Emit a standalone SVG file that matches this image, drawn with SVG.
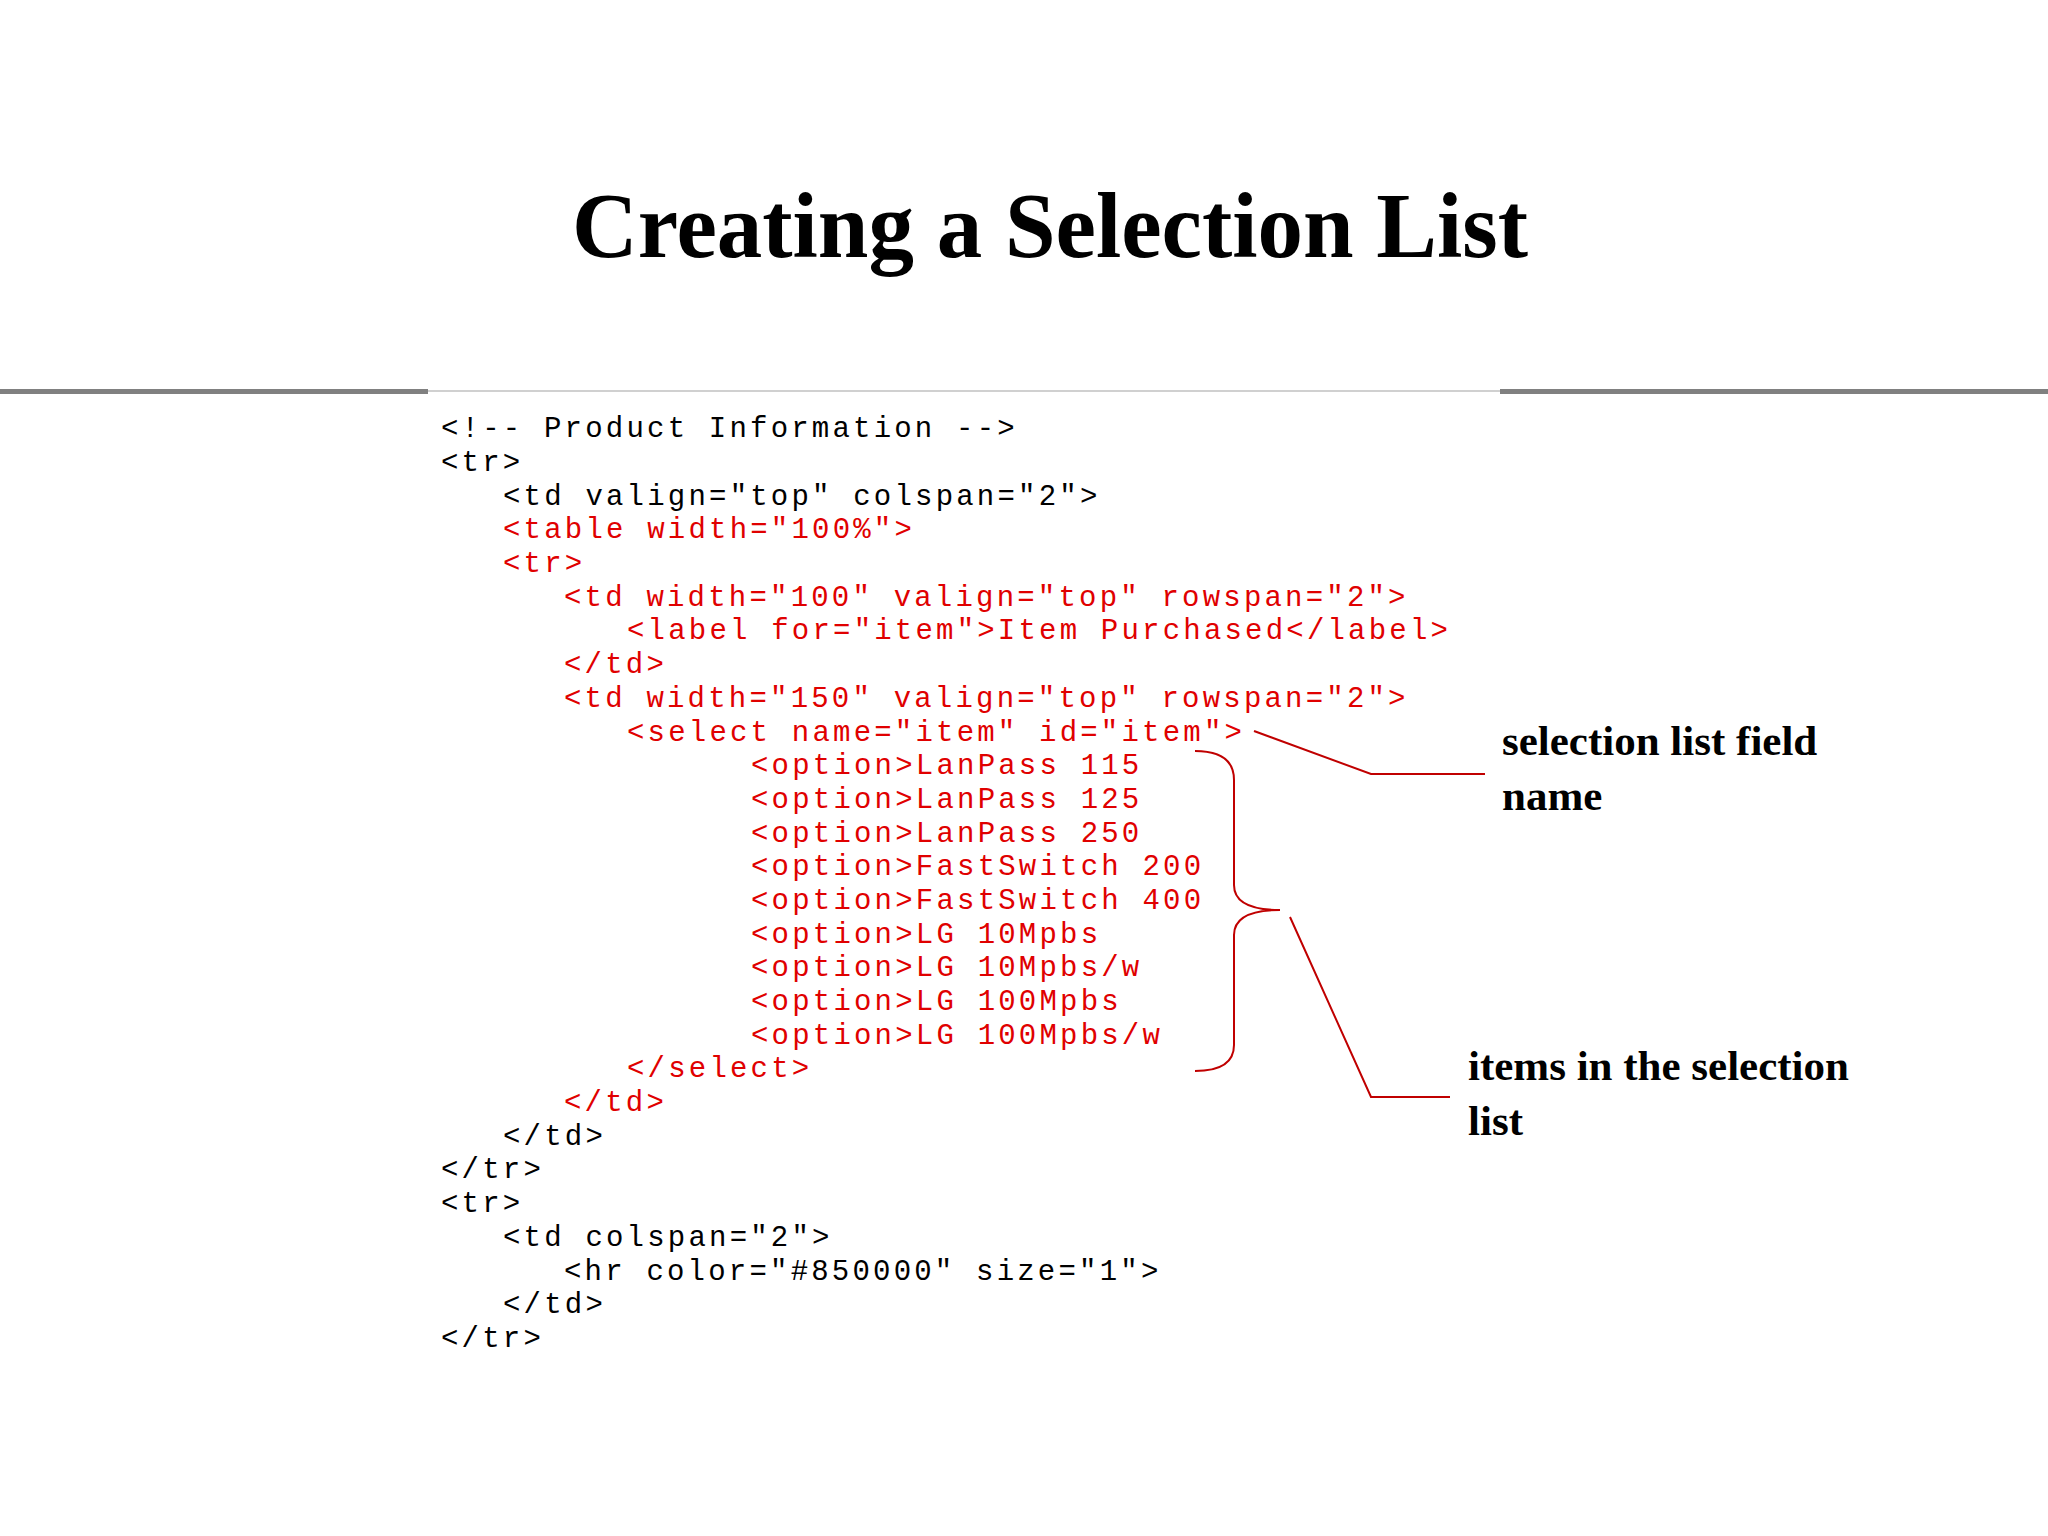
<svg xmlns="http://www.w3.org/2000/svg" width="2048" height="1536" viewBox="0 0 2048 1536">
<style>
.c{font-family:"Liberation Mono","DejaVu Sans Mono",monospace;font-size:29px;letter-spacing:3.2px;}
.k{fill:#000}.r{fill:#e00000}
.l{font-family:"Liberation Serif","Times New Roman",serif;font-weight:bold;font-size:43px;fill:#000}
.w{fill:none;stroke:#c00000;stroke-width:2}
</style>
<rect width="2048" height="1536" fill="#fff"/>
<text x="1050" y="257" text-anchor="middle" font-family="Liberation Serif,serif" font-weight="bold" font-size="94" textLength="956" lengthAdjust="spacingAndGlyphs">Creating a Selection List</text>
<rect x="0" y="389" width="428" height="5" fill="#808080"/>
<rect x="1500" y="389" width="548" height="5" fill="#808080"/>
<rect x="428" y="390" width="1072" height="2" fill="#d0d0d0"/>
<g id="code" xml:space="preserve">
<text class="c k" x="441" y="437">&lt;!-- Product Information --&gt;</text>
<text class="c k" x="441" y="471">&lt;tr&gt;</text>
<text class="c k" x="503" y="505">&lt;td valign="top" colspan="2"&gt;</text>
<text class="c r" x="503" y="538">&lt;table width="100%"&gt;</text>
<text class="c r" x="503" y="572">&lt;tr&gt;</text>
<text class="c r" x="564" y="606">&lt;td width="100" valign="top" rowspan="2"&gt;</text>
<text class="c r" x="627" y="639">&lt;label for="item"&gt;Item Purchased&lt;/label&gt;</text>
<text class="c r" x="564" y="673">&lt;/td&gt;</text>
<text class="c r" x="564" y="707">&lt;td width="150" valign="top" rowspan="2"&gt;</text>
<text class="c r" x="627" y="741">&lt;select name="item" id="item"&gt;</text>
<text class="c r" x="751" y="774">&lt;option&gt;LanPass 115</text>
<text class="c r" x="751" y="808">&lt;option&gt;LanPass 125</text>
<text class="c r" x="751" y="842">&lt;option&gt;LanPass 250</text>
<text class="c r" x="751" y="875">&lt;option&gt;FastSwitch 200</text>
<text class="c r" x="751" y="909">&lt;option&gt;FastSwitch 400</text>
<text class="c r" x="751" y="943">&lt;option&gt;LG 10Mpbs</text>
<text class="c r" x="751" y="976">&lt;option&gt;LG 10Mpbs/w</text>
<text class="c r" x="751" y="1010">&lt;option&gt;LG 100Mpbs</text>
<text class="c r" x="751" y="1044">&lt;option&gt;LG 100Mpbs/w</text>
<text class="c r" x="627" y="1077">&lt;/select&gt;</text>
<text class="c r" x="564" y="1111">&lt;/td&gt;</text>
<text class="c k" x="503" y="1145">&lt;/td&gt;</text>
<text class="c k" x="441" y="1178">&lt;/tr&gt;</text>
<text class="c k" x="441" y="1212">&lt;tr&gt;</text>
<text class="c k" x="503" y="1246">&lt;td colspan="2"&gt;</text>
<text class="c k" x="564" y="1280">&lt;hr color="#850000" size="1"&gt;</text>
<text class="c k" x="503" y="1313">&lt;/td&gt;</text>
<text class="c k" x="441" y="1347">&lt;/tr&gt;</text>
</g>
<g id="connectors">
<path class="w" d="M1195 751 Q1234 751 1234 780 L1234 885 Q1234 910 1280 910 Q1234 910 1234 935 L1234 1045 Q1234 1071 1195 1071"/>
<polyline class="w" points="1254,731 1371,774 1485,774"/>
<polyline class="w" points="1290,917 1371,1097 1450,1097"/>
</g>
<g id="label1"><text class="l" x="1502" y="755">selection list field</text><text class="l" x="1502" y="810">name</text></g>
<g id="label2"><text class="l" x="1468" y="1080">items in the selection</text><text class="l" x="1468" y="1135">list</text></g>
</svg>
